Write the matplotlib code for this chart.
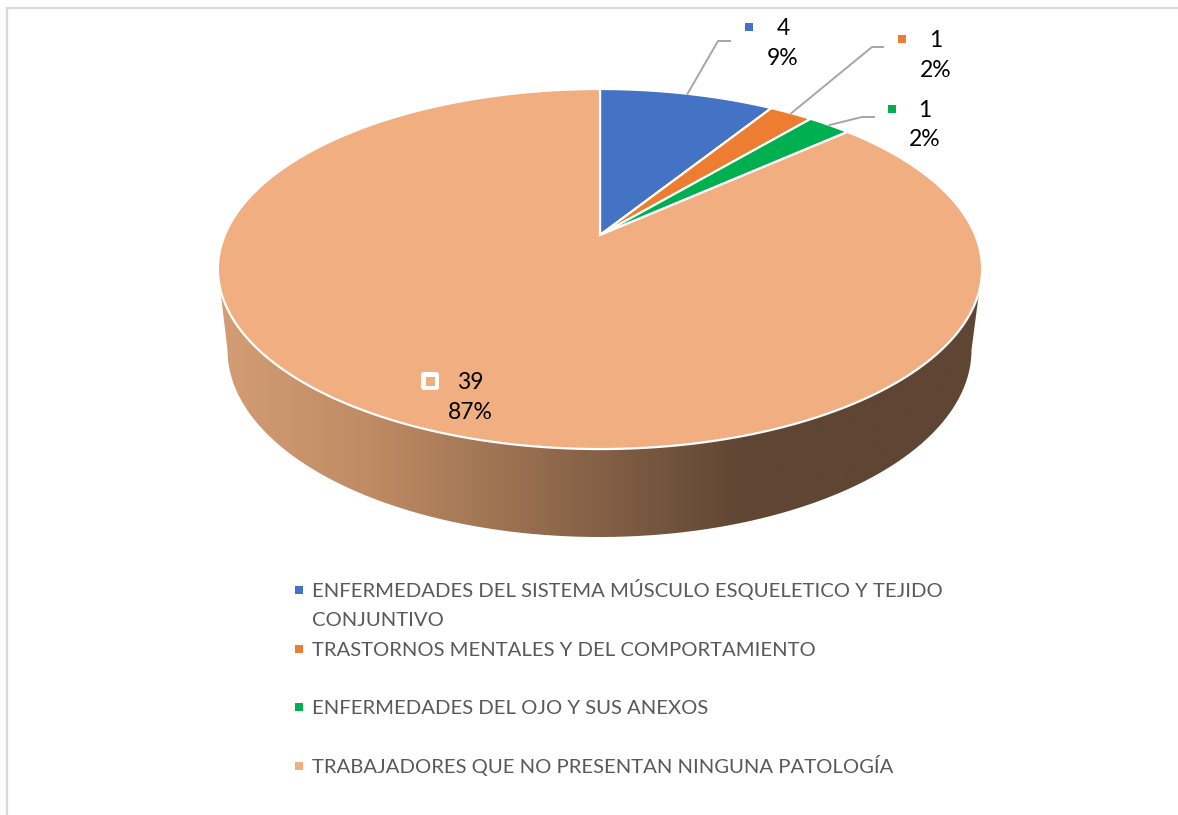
#!/usr/bin/env python3
import numpy as np
import matplotlib
matplotlib.use('Agg')
import matplotlib.pyplot as plt
from matplotlib.colors import LinearSegmentedColormap
from matplotlib.patches import FancyBboxPatch, PathPatch, Rectangle
from matplotlib.path import Path

categories = ['ENFERMEDADES DEL SISTEMA MÚSCULO ESQUELETICO Y TEJIDO\nCONJUNTIVO',
              'TRASTORNOS MENTALES Y DEL COMPORTAMIENTO',
              'ENFERMEDADES DEL OJO Y SUS ANEXOS',
              'TRABAJADORES QUE NO PRESENTAN NINGUNA PATOLOGÍA']
values = [4, 1, 1, 39]
percents = ['9%', '2%', '2%', '87%']
colors = ['#4472C4', '#ED7D31', '#00B050', '#F1AF81']

W, H = 1178, 815
FONT = 'Lato'
# apex of the pie and perspective of the top face, in pixels
APEX = (600, 235)
PERSP = 0.189
KX, KY = 375.2, 173.6
# lower rim of the wall
LOW = (599.5, 350, 372, 187)

plt.rcParams['font.family'] = [FONT, 'DejaVu Sans']


def rim(theta):
    # theta clockwise from 12 o'clock, radians
    u, v = np.sin(theta), np.cos(theta)
    d = 1 + PERSP * v
    return APEX[0] + KX * u / d, APEX[1] - KY * v / d


fig = plt.figure(figsize=(W / 100, H / 100), dpi=100)
ax = fig.add_axes([0, 0, 1, 1])
ax.set_xlim(0, W)
ax.set_ylim(H, 0)
ax.axis('off')

# chart frame
ax.plot([7, 7, W + 5], [H + 5, 8, 8], color='#D9D9D9', lw=1.6, solid_joinstyle='miter')

# wall, horizontal gradient clipped to the outline
t_low = np.linspace(np.pi, 0, 200)
low_x = LOW[0] + LOW[2] * np.cos(t_low)
low_y = LOW[1] + LOW[3] * np.sin(t_low)
# from the widest point of the top face on the right, round the front, to the left one
t_wide = np.arccos(-PERSP)
t_top = np.linspace(t_wide, 2 * np.pi - t_wide, 200)
top_x, top_y = rim(t_top)
wall = Path(np.column_stack([np.r_[low_x, top_x], np.r_[low_y, top_y]]))
wall_cmap = LinearSegmentedColormap.from_list('wall', [(0, '#D49D74'), (0.2, '#BF8B64'), (0.69, '#5F4533'),
                                                       (1, '#5F4533')])
im = ax.imshow(np.linspace(0, 1, 800).reshape(1, -1), cmap=wall_cmap, aspect='auto',
               extent=(218, 981, 540, 200), zorder=1)
im.set_clip_path(PathPatch(wall, transform=ax.transData))
ax.set_xlim(0, W)
ax.set_ylim(H, 0)

# top face
angles = np.r_[0, np.cumsum(values)] / sum(values) * 2 * np.pi
for i, color in enumerate(colors):
    t = np.linspace(angles[i], angles[i + 1], 300)
    x, y = rim(t)
    ax.fill(np.r_[APEX[0], x], np.r_[APEX[1], y], facecolor=color, edgecolor='white', lw=1.6,
            joinstyle='miter', zorder=2)

# leader lines
leader_offsets = [[(718, 41), (730, 41)], [(872, 47), (883, 47)], [(862, 117), (874, 117)]]
for i, pts in enumerate(leader_offsets):
    x0, y0 = rim((angles[i] + angles[i + 1]) / 2)
    ax.plot([x0, pts[0][0], pts[1][0]], [y0, pts[0][1], pts[1][1]], color='#A6A6A6', lw=1.4, zorder=3)

# data labels: text x, two baselines, marker x and y
label_pos = [(783, 35, 65, 749, 27), (936, 47, 77, 902, 39), (925, 117, 146, 892, 109), (470, 389, 419, 430, 381)]
for i, (tx, y1, y2, mx, my) in enumerate(label_pos):
    ax.text(tx, y1, str(values[i]), fontsize=16.5, color='black', ha='center', va='baseline', zorder=5)
    ax.text(tx, y2, percents[i], fontsize=16.5, color='black', ha='center', va='baseline', zorder=5)
    if i < 3:
        ax.add_patch(Rectangle((mx - 4, my - 4), 8, 8, facecolor=colors[i], edgecolor='none', zorder=5))
    else:
        ax.add_patch(FancyBboxPatch((mx - 9, my - 9), 18, 18, boxstyle='round,pad=0,rounding_size=3',
                                    facecolor='white', edgecolor='none', zorder=5))
        ax.add_patch(Rectangle((mx - 4.5, my - 4.5), 9, 9, facecolor=colors[i], edgecolor='none', zorder=6))

# legend
legend_y = [590, 649, 707, 766]
for name, color, y in zip(categories, colors, legend_y):
    ax.add_patch(Rectangle((295, y - 4), 8, 8, facecolor=color, edgecolor='none'))
    for j, line in enumerate(name.split('\n')):
        ax.text(312, y + 7 + 29 * j, line, fontsize=14.6, color='#595959', ha='left', va='baseline')

fig.savefig('out.png', dpi=100)
